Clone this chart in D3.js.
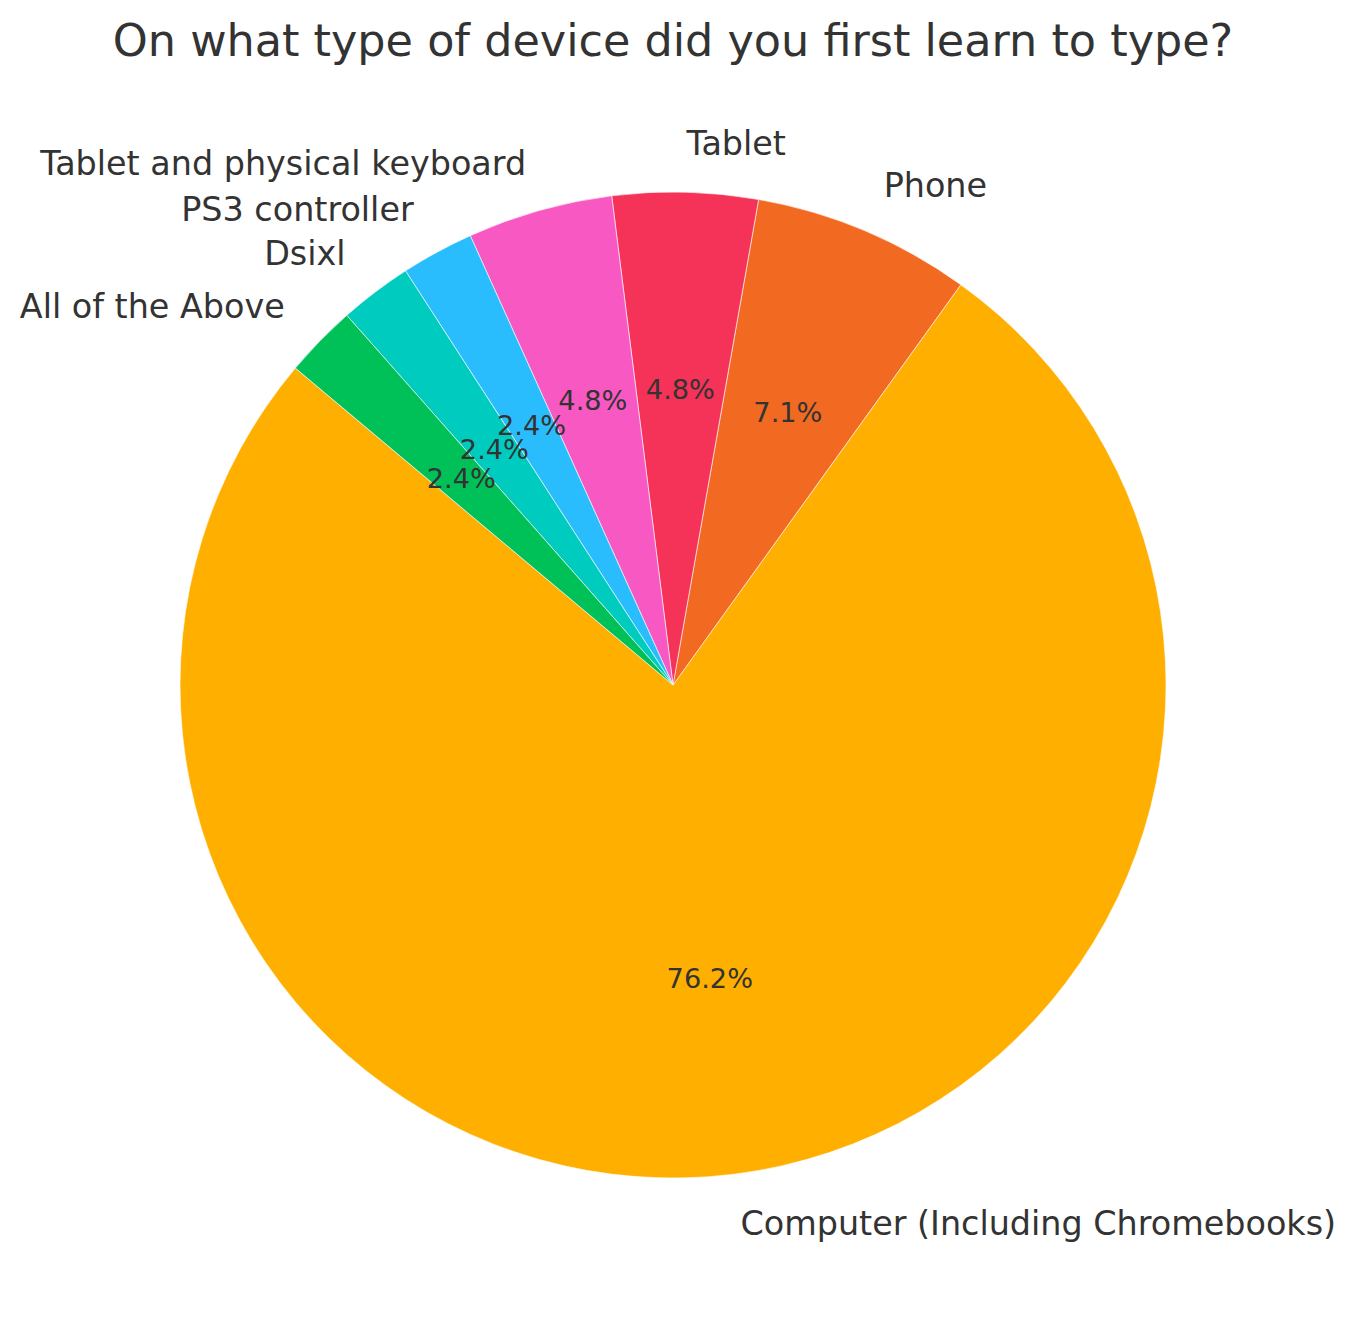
<!DOCTYPE html>
<html><head><meta charset="utf-8">
<script src="https://cdn.jsdelivr.net/npm/d3@7"></script>
<style>body{margin:0;background:#fff}text{font-family:"DejaVu Sans",sans-serif;fill:#333}</style>
</head><body>
<svg id="c" width="1356" height="1322"></svg>
<script>
const categories = ["Computer (Including Chromebooks)", "Phone", "Tablet", "Tablet and physical keyboard", "PS3 controller", "Dsixl", "All of the Above"];
const counts = [32, 3, 2, 2, 1, 1, 1];
const colors = ["#FFAF00", "#F26921", "#F53257", "#F858C2", "#2ABDFD", "#00CBBF", "#00C158"];
const title = "On what type of device did you first learn to type?";

const W = 1356, H = 1322, cx = 673, cy = 685, R = 493;
const svg = d3.select("#c");
const data = categories.map((c, i) => ({cat: c, v: counts[i], col: colors[i]}));
const start = (90 - 140) * Math.PI / 180;
const pie = d3.pie().sort(null).value(d => d.v).startAngle(start).endAngle(start - 2 * Math.PI);
const arcs = pie(data);
const total = d3.sum(counts);
const arc = d3.arc().innerRadius(0).outerRadius(R);
const g = svg.append("g").attr("transform", `translate(${cx},${cy})`);
g.selectAll("path").data(arcs).join("path")
  .attr("d", arc).attr("fill", d => d.data.col)
  .attr("stroke", "#fff").attr("stroke-width", 0.6);
const mid = d => (d.startAngle + d.endAngle) / 2;
g.selectAll("text.lab").data(arcs).join("text").attr("class", "lab")
  .attr("x", d => Math.sin(mid(d)) * R * 1.1)
  .attr("y", d => -Math.cos(mid(d)) * R * 1.1)
  .attr("dy", "0.36em")
  .attr("text-anchor", d => Math.sin(mid(d)) >= 0 ? "start" : "end")
  .style("font-size", "33.4px")
  .text(d => d.data.cat);
g.selectAll("text.pct").data(arcs).join("text").attr("class", "pct")
  .attr("x", d => Math.sin(mid(d)) * R * 0.6)
  .attr("y", d => -Math.cos(mid(d)) * R * 0.6)
  .attr("dy", "0.36em")
  .attr("text-anchor", "middle")
  .style("font-size", "27.2px")
  .text(d => (d.data.v / total * 100).toFixed(1) + "%");
svg.append("text").attr("x", cx).attr("y", 40).attr("dy", "0.36em")
  .attr("text-anchor", "middle").style("font-size", "44.5px").text(title);
</script>
</body></html>
